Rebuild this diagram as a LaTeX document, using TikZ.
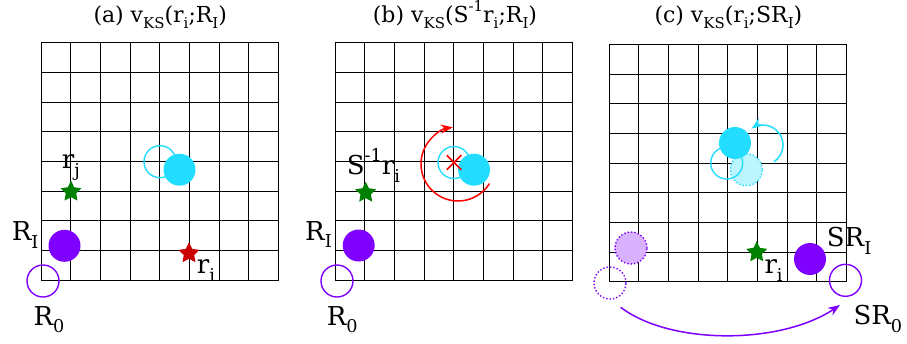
\documentclass[tikz,border=0pt]{standalone}
\usepackage{fontspec}
\setmainfont{DejaVu Serif}
\usetikzlibrary{shapes.geometric,shapes.misc,arrows.meta}
\definecolor{vpurple}{RGB}{127,0,255}
\definecolor{vcyan}{RGB}{34,221,255}
\definecolor{vgreen}{RGB}{0,128,0}
\definecolor{vdred}{RGB}{200,0,0}
\newcommand{\sbx}[1]{\raisebox{-0.3em}{\scalebox{0.68}{#1}}}
\newcommand{\spx}[1]{\raisebox{0.5em}{\scalebox{0.68}{#1}}}
\begin{document}
\begin{tikzpicture}[x=1pt,y=-1pt,
  gridline/.style={line width=1pt, black},
  ttl/.style={anchor=base west, inner sep=0, font=\fontsize{22}{24}\selectfont},
  lbl/.style={anchor=base west, inner sep=0, font=\fontsize{26}{28}\selectfont},
  atom/.style={circle, inner sep=0, minimum size=32pt},
  ring/.style={circle, inner sep=0, minimum size=32pt, draw, line width=1.4pt},
  ghost/.style={circle, inner sep=0, minimum size=32pt, draw, dotted, line width=1.4pt},
  elec/.style={star, star points=5, star point ratio=2.0, inner sep=0, minimum size=22pt},
  arr/.style={line width=1.5pt, -{Stealth[length=12pt,width=9pt]}},
]
\useasboundingbox (0,0) rectangle (907,343);
\fill[white] (0,0) rectangle (907,343);
% grids
\foreach \gx/\gy in {41/42.7, 335/42.7, 609/44.3} {
  \foreach \i in {0,...,8} {
    \draw[gridline] (\gx+\i*29.7, \gy) -- (\gx+\i*29.7, \gy+237.6);
    \draw[gridline] (\gx, \gy+\i*29.7) -- (\gx+237.6, \gy+\i*29.7);
  }
}
% ---------- panel (a)
\node[ttl] (ta) at (93.3,22) {(a) v\sbx{KS}(r\sbx{i};R\sbx{I})};
\node[ring, draw=vpurple] (R0a) at (43,281) {};
\node[atom, fill=vpurple] (RIa) at (64.5,245.8) {};
\node[ring, draw=vcyan] (ca0) at (160,161.7) {};
\node[atom, fill=vcyan] (ca1) at (179.5,169.7) {};
\node[elec, fill=vgreen] (rja) at (71,191.7) {};
\node[elec, fill=vdred] (ria) at (189,253.3) {};
\node[lbl] (lRIa) at (11.7,240.7) {R\sbx{I}};
\node[lbl] (lR0a) at (33.3,325) {R\sbx{0}};
\node[lbl] (lrja) at (61.7,168.3) {r\sbx{j}};
\node[lbl] (lria) at (196.7,273.3) {r\sbx{i}};
% ---------- panel (b)
\node[ttl] (tb) at (372.7,22) {(b) v\sbx{KS}(S\spx{-1}r\sbx{i};R\sbx{I})};
\node[ring, draw=vpurple] (R0b) at (337,281) {};
\node[atom, fill=vpurple] (RIb) at (358.7,245.5) {};
\node[ring, draw=vcyan] (cb0) at (454,162.5) {};
\node[atom, fill=vcyan] (cb1) at (474,169.7) {};
\node[cross out, draw=red, minimum size=13pt, inner sep=0, line width=1.5pt] (xb) at (454,162.5) {};
\node[elec, fill=vgreen] (rib) at (365.7,192.7) {};
\draw[arr, red] (458,164) ++(32:37) arc[start angle=32, end angle=262, radius=37];
\node[lbl] (lRIb) at (305,240) {R\sbx{I}};
\node[lbl] (lR0b) at (326.7,325) {R\sbx{0}};
\node[lbl] (lSrb) at (346.7,174.3) {S\spx{-1}r\sbx{i}};
% ---------- panel (c)
\node[ttl] (tc) at (654.3,22) {(c) v\sbx{KS}(r\sbx{i};SR\sbx{I})};
\node[ghost, draw=vpurple, fill=vpurple!30] (pc1) at (631,248) {};
\node[ghost, draw=vpurple] (R0c) at (610,283) {};
\node[atom, fill=vpurple] (RIc) at (810,259) {};
\node[ring, draw=vpurple] (SR0) at (845.5,280.3) {};
\node[ghost, draw=vcyan, fill=vcyan!30] (cc2) at (746.3,169.7) {};
\node[ring, draw=vcyan] (cc0) at (726.7,163) {};
\node[atom, fill=vcyan] (cc1) at (735,143) {};
\draw[arr, vcyan] (763,145) ++(57:20) arc[start angle=57, end angle=-125, radius=20];
\node[elec, fill=vgreen] (ric) at (756.7,252.3) {};
\coordinate (pa) at (620.7,307.3);
\coordinate (pb) at (840,305);
\draw[arr, vpurple] (pa) .. controls (670,345) and (780,345) .. (pb);
\node[lbl] (lric) at (764.3,273.3) {r\sbx{i}};
\node[lbl] (lSRI) at (826.7,246.7) {SR\sbx{I}};
\node[lbl] (lSR0) at (853.3,324.3) {SR\sbx{0}};
\end{tikzpicture}
\end{document}
